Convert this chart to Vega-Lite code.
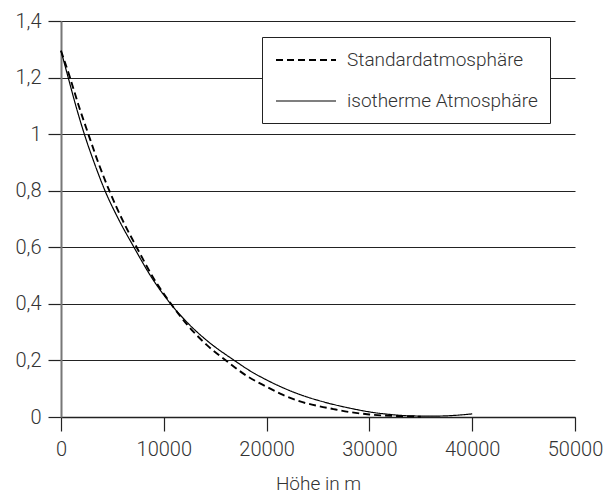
{
  "$schema": "https://vega.github.io/schema/vega-lite/v6.json",
  "width": 514,
  "height": 396,
  "autosize": "none",
  "padding": {"left": 61, "top": 21, "right": 37, "bottom": 79},
  "background": "white",
  "config": {"view": {"stroke": null}, "font": "Roboto"},
  "data": {
    "values": [
      {"series": "Standardatmosphäre", "h": 0, "rho": 1.295},
      {"series": "Standardatmosphäre", "h": 875, "rho": 1.2},
      {"series": "Standardatmosphäre", "h": 1700, "rho": 1.103},
      {"series": "Standardatmosphäre", "h": 2660, "rho": 1.0},
      {"series": "Standardatmosphäre", "h": 3600, "rho": 0.902},
      {"series": "Standardatmosphäre", "h": 4700, "rho": 0.8},
      {"series": "Standardatmosphäre", "h": 6000, "rho": 0.695},
      {"series": "Standardatmosphäre", "h": 7360, "rho": 0.6},
      {"series": "Standardatmosphäre", "h": 9000, "rho": 0.491},
      {"series": "Standardatmosphäre", "h": 10700, "rho": 0.4},
      {"series": "Standardatmosphäre", "h": 12400, "rho": 0.321},
      {"series": "Standardatmosphäre", "h": 14170, "rho": 0.255},
      {"series": "Standardatmosphäre", "h": 16050, "rho": 0.2},
      {"series": "Standardatmosphäre", "h": 18000, "rho": 0.147},
      {"series": "Standardatmosphäre", "h": 20000, "rho": 0.107},
      {"series": "Standardatmosphäre", "h": 21600, "rho": 0.078},
      {"series": "Standardatmosphäre", "h": 23250, "rho": 0.055},
      {"series": "Standardatmosphäre", "h": 25000, "rho": 0.039},
      {"series": "Standardatmosphäre", "h": 26500, "rho": 0.028},
      {"series": "Standardatmosphäre", "h": 28000, "rho": 0.018},
      {"series": "Standardatmosphäre", "h": 30000, "rho": 0.009},
      {"series": "Standardatmosphäre", "h": 33000, "rho": 0.003},
      {"series": "Standardatmosphäre", "h": 35000, "rho": 0.001},
      {"series": "isotherme Atmosphäre", "h": 0, "rho": 1.295},
      {"series": "isotherme Atmosphäre", "h": 700, "rho": 1.2},
      {"series": "isotherme Atmosphäre", "h": 1500, "rho": 1.093},
      {"series": "isotherme Atmosphäre", "h": 2270, "rho": 1.0},
      {"series": "isotherme Atmosphäre", "h": 3200, "rho": 0.902},
      {"series": "isotherme Atmosphäre", "h": 4280, "rho": 0.8},
      {"series": "isotherme Atmosphäre", "h": 5600, "rho": 0.699},
      {"series": "isotherme Atmosphäre", "h": 7100, "rho": 0.6},
      {"series": "isotherme Atmosphäre", "h": 8800, "rho": 0.494},
      {"series": "isotherme Atmosphäre", "h": 10670, "rho": 0.4},
      {"series": "isotherme Atmosphäre", "h": 12500, "rho": 0.326},
      {"series": "isotherme Atmosphäre", "h": 14170, "rho": 0.271},
      {"series": "isotherme Atmosphäre", "h": 16860, "rho": 0.2},
      {"series": "isotherme Atmosphäre", "h": 18400, "rho": 0.163},
      {"series": "isotherme Atmosphäre", "h": 20000, "rho": 0.131},
      {"series": "isotherme Atmosphäre", "h": 22000, "rho": 0.097},
      {"series": "isotherme Atmosphäre", "h": 24000, "rho": 0.07},
      {"series": "isotherme Atmosphäre", "h": 26000, "rho": 0.049},
      {"series": "isotherme Atmosphäre", "h": 28000, "rho": 0.032},
      {"series": "isotherme Atmosphäre", "h": 30000, "rho": 0.018},
      {"series": "isotherme Atmosphäre", "h": 32000, "rho": 0.009},
      {"series": "isotherme Atmosphäre", "h": 34000, "rho": 0.004},
      {"series": "isotherme Atmosphäre", "h": 36000, "rho": 0.003},
      {"series": "isotherme Atmosphäre", "h": 38000, "rho": 0.005},
      {"series": "isotherme Atmosphäre", "h": 40000, "rho": 0.011}
    ]
  },
  "mark": {"type": "line", "color": "black", "interpolate": "monotone"},
  "encoding": {
    "x": {
      "field": "h", "type": "quantitative",
      "scale": {"domain": [0, 50000], "nice": false},
      "axis": {
        "values": [0, 10000, 20000, 30000, 40000, 50000], "format": "d",
        "title": "Höhe in m", "grid": false,
        "domainColor": "#222", "domainWidth": 1.5,
        "tickColor": "#222", "tickSize": 14, "tickWidth": 1.2,
        "labelFontSize": 20, "labelFontWeight": 300, "labelColor": "#333", "labelPadding": 8,
        "labelFlush": false,
        "titleFontSize": 19, "titleFontWeight": 300, "titleColor": "#333", "titlePadding": 15
      }
    },
    "y": {
      "field": "rho", "type": "quantitative",
      "scale": {"domain": [0, 1.4], "nice": false},
      "axis": {
        "values": [0, 0.2, 0.4, 0.6, 0.8, 1, 1.2, 1.4],
        "labelExpr": "replace(format(datum.value, '.1~f'), '.', ',')",
        "title": null, "grid": true, "gridColor": "#222", "gridWidth": 1, "gridOpacity": 1,
        "domainColor": "#777", "domainWidth": 2,
        "tickColor": "#222", "tickSize": 13, "tickWidth": 1.2,
        "labelFontSize": 20, "labelFontWeight": 300, "labelColor": "#333", "labelPadding": 7,
        "labelFlush": false
      }
    },
    "strokeDash": {
      "field": "series", "type": "nominal",
      "scale": {"domain": ["Standardatmosphäre", "isotherme Atmosphäre"], "range": [[7, 4], [1, 0]]},
      "legend": {
        "title": null, "orient": "none", "legendX": 201, "legendY": 16,
        "fillColor": "white", "strokeColor": "#222", "padding": 12,
        "labelFontSize": 19, "labelFontWeight": 300, "labelColor": "#333", "labelLimit": 400,
        "symbolType": "M-3,0H3", "symbolSize": 400, "symbolStrokeWidth": 1.5,
        "symbolStrokeColor": "black", "symbolOffset": 21, "labelOffset": 30,
        "rowPadding": 20,
        "labelExpr": "datum.label + '\u00a0\u00a0\u00a0\u00a0\u00a0'"
      }
    },
    "strokeWidth": {
      "field": "series", "type": "nominal",
      "scale": {"domain": ["Standardatmosphäre", "isotherme Atmosphäre"], "range": [1.9, 1.2]},
      "legend": null
    }
  }
}
